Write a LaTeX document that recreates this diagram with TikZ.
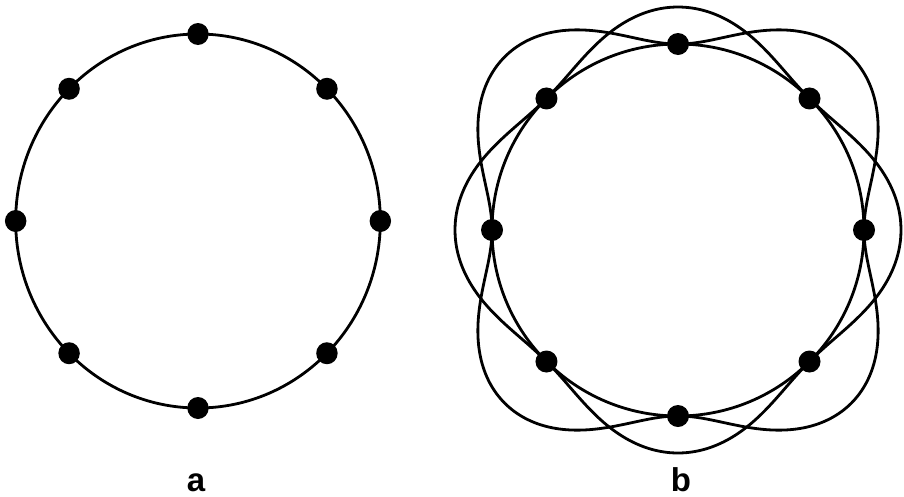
\documentclass[tikz,border=0pt]{standalone}
\usepackage{fontspec}
\setsansfont{Liberation Sans}
\begin{document}
\begin{tikzpicture}[x=1pt,y=-1pt,line width=2.8pt,font={\sffamily\bfseries\fontsize{33}{36}\selectfont}]
\useasboundingbox (0,0) rectangle (904,496);
% a: ring
\begin{scope}[shift={(198,221)},xscale=0.975]
 \draw (0,0) circle (187);
 \foreach \a in {0,45,...,315} \fill (\a:187) circle (11);
\end{scope}
% b: ring with two orbits
\begin{scope}[shift={(678,230)}]
 \draw (0,0) circle (186);
 \draw[domain=0:360,samples=241,smooth] plot (\x:{186+59*sin(2*\x)*sin(2*\x)});
 \draw[domain=0:360,samples=241,smooth] plot (\x:{186+37*cos(2*\x)*cos(2*\x)});
 \foreach \a in {0,45,...,315} \fill (\a:186) circle (11);
\end{scope}
\node[anchor=base,inner sep=0pt] (la) at (196,491) {a};
\node[anchor=base,inner sep=0pt] (lb) at (681,491) {b};
\end{tikzpicture}
\end{document}
